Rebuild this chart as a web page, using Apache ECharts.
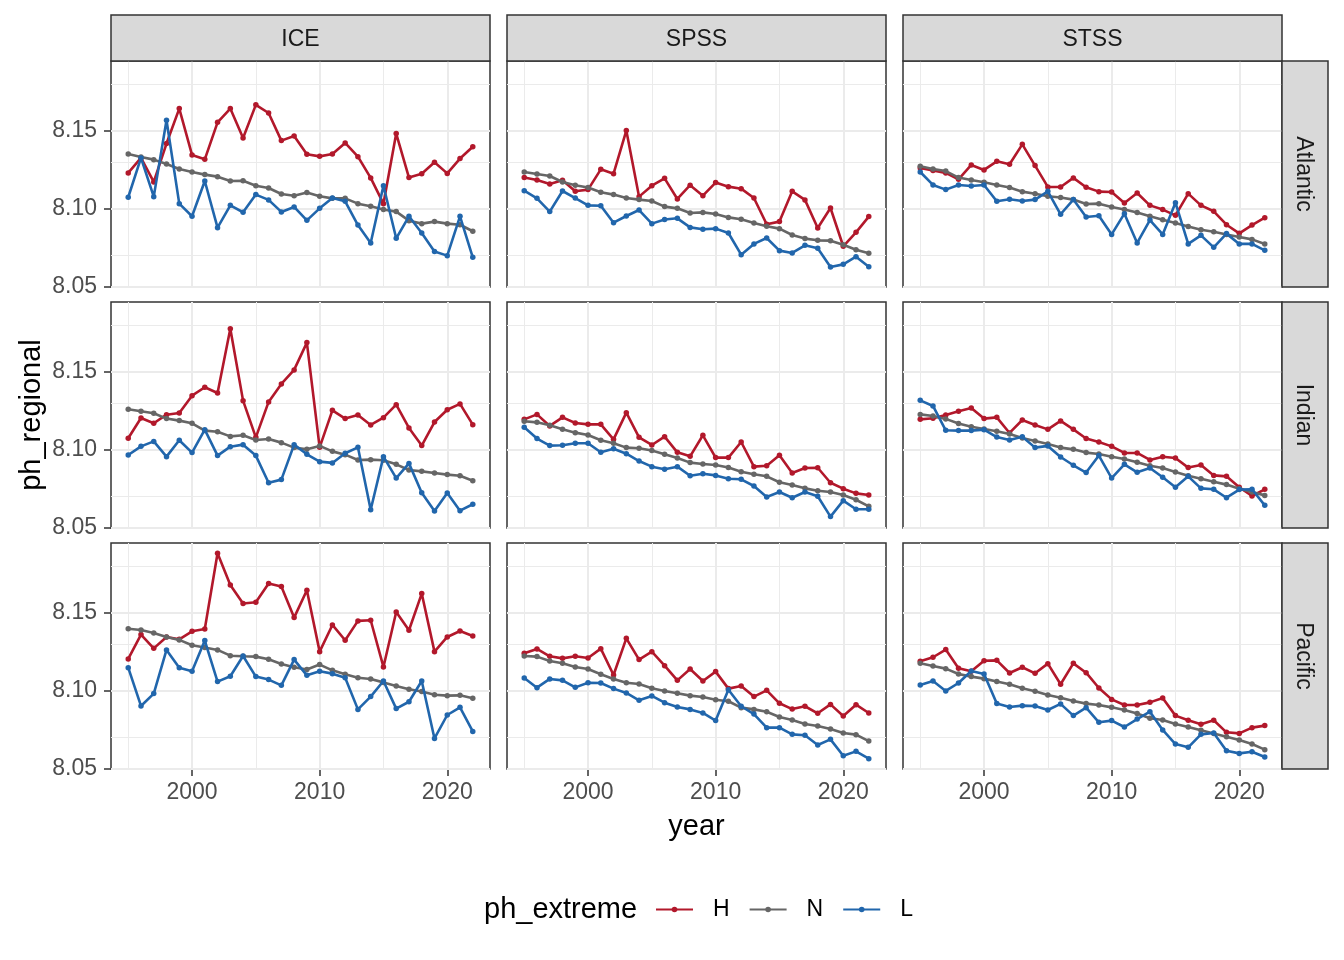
<!DOCTYPE html>
<html><head><meta charset="utf-8">
<script src="https://cdn.jsdelivr.net/npm/echarts@6/dist/echarts.min.js"></script>
<style>html,body{margin:0;padding:0;background:#fff}#c{width:1344px;height:960px}</style>
</head><body><div id="c"></div>
<script>
// ---------- data ----------
const years = [1995,1996,1997,1998,1999,2000,2001,2002,2003,2004,2005,2006,2007,2008,2009,2010,2011,2012,2013,2014,2015,2016,2017,2018,2019,2020,2021,2022];
const zones = ['ICE','SPSS','STSS'];
const regions = ['Atlantic','Indian','Pacific'];
const extremes = ['H','N','L'];
const xMajor = [2000, 2010, 2020];
const xMinor = [1995, 2005, 2015];
const xTickLabels = ['2000','2010','2020'];
const yMajor = [8.05, 8.10, 8.15];
const yMinor = [8.075, 8.125, 8.175];
const yTickLabels = ['8.05','8.10','8.15'];

const ice_atl_H = [8.1229,8.1325,8.1171,8.1417,8.1641,8.1344,8.1316,8.1553,8.1641,8.1453,8.1665,8.1613,8.1436,8.1466,8.1348,8.1335,8.1350,8.1421,8.1333,8.1197,8.1032,8.1481,8.1199,8.1224,8.1297,8.1226,8.1321,8.1397];
const ice_atl_N = [8.1350,8.1331,8.1314,8.1286,8.1254,8.1235,8.1218,8.1205,8.1177,8.1179,8.1147,8.1132,8.1094,8.1083,8.1103,8.1079,8.1066,8.1066,8.1032,8.1015,8.0994,8.0981,8.0923,8.0904,8.0917,8.0904,8.0897,8.0855];
const ice_atl_L = [8.1073,8.1325,8.1077,8.1566,8.1032,8.0951,8.1177,8.0878,8.1021,8.0977,8.1090,8.1056,8.0979,8.1011,8.0925,8.1002,8.1068,8.1047,8.0895,8.0780,8.1147,8.0810,8.0951,8.0844,8.0726,8.0699,8.0951,8.0688];

const spss_atl_H = [8.1199,8.1184,8.1158,8.1182,8.1111,8.1122,8.1252,8.1224,8.1500,8.1077,8.1147,8.1194,8.1062,8.1150,8.1083,8.1167,8.1141,8.1128,8.1068,8.0900,8.0917,8.1111,8.1056,8.0876,8.1004,8.0759,8.0848,8.0949];
const spss_atl_N = [8.1235,8.1222,8.1209,8.1171,8.1150,8.1135,8.1105,8.1090,8.1068,8.1058,8.1049,8.1013,8.1002,8.0972,8.0976,8.0966,8.0944,8.0932,8.0908,8.0887,8.0872,8.0831,8.0808,8.0797,8.0795,8.0769,8.0737,8.0714];
const spss_atl_L = [8.1115,8.1066,8.0981,8.1113,8.1068,8.1021,8.1019,8.0910,8.0953,8.0991,8.0904,8.0930,8.0938,8.0880,8.0868,8.0872,8.0844,8.0705,8.0774,8.0812,8.0731,8.0716,8.0765,8.0746,8.0626,8.0643,8.0692,8.0628];

const stss_atl_H = [8.1261,8.1244,8.1229,8.1188,8.1280,8.1248,8.1303,8.1284,8.1412,8.1276,8.1139,8.1139,8.1197,8.1137,8.1109,8.1107,8.1036,8.1100,8.1021,8.0994,8.0957,8.1096,8.1021,8.0983,8.0897,8.0842,8.0895,8.0942];
const stss_atl_N = [8.1271,8.1254,8.1241,8.1199,8.1184,8.1169,8.1152,8.1135,8.1109,8.1096,8.1079,8.1071,8.1058,8.1030,8.1032,8.1011,8.0994,8.0976,8.0951,8.0929,8.0908,8.0885,8.0865,8.0852,8.0835,8.0818,8.0803,8.0774];
const stss_atl_L = [8.1235,8.1152,8.1122,8.1152,8.1145,8.1152,8.1047,8.1060,8.1049,8.1058,8.1111,8.0964,8.1058,8.0947,8.0955,8.0835,8.0968,8.0780,8.0927,8.0835,8.1038,8.0774,8.0829,8.0752,8.0840,8.0774,8.0774,8.0733];

const ice_ind_H = [8.1073,8.1203,8.1169,8.1224,8.1235,8.1346,8.1400,8.1363,8.1774,8.1314,8.1079,8.1306,8.1421,8.1511,8.1686,8.1015,8.1252,8.1199,8.1222,8.1158,8.1205,8.1288,8.1139,8.1026,8.1177,8.1256,8.1293,8.1160];
const ice_ind_N = [8.1259,8.1246,8.1233,8.1199,8.1186,8.1169,8.1122,8.1115,8.1085,8.1092,8.1062,8.1068,8.1045,8.1013,8.1002,8.1024,8.0989,8.0968,8.0934,8.0936,8.0932,8.0906,8.0870,8.0861,8.0850,8.0840,8.0833,8.0801];
const ice_ind_L = [8.0966,8.1021,8.1053,8.0955,8.1060,8.0981,8.1128,8.0962,8.1019,8.1032,8.0962,8.0788,8.0808,8.1032,8.0970,8.0923,8.0915,8.0977,8.1015,8.0615,8.0955,8.0818,8.0912,8.0724,8.0607,8.0722,8.0609,8.0650];

const spss_ind_H = [8.1194,8.1226,8.1152,8.1207,8.1171,8.1162,8.1162,8.1066,8.1237,8.1079,8.1030,8.1083,8.0983,8.0957,8.1092,8.0949,8.0949,8.1049,8.0891,8.0897,8.0964,8.0850,8.0882,8.0884,8.0788,8.0750,8.0720,8.0709];
const spss_ind_N = [8.1182,8.1175,8.1156,8.1130,8.1109,8.1094,8.1060,8.1041,8.1013,8.1009,8.0994,8.0970,8.0947,8.0917,8.0908,8.0902,8.0885,8.0859,8.0842,8.0829,8.0791,8.0774,8.0752,8.0737,8.0729,8.0709,8.0679,8.0637];
const spss_ind_L = [8.1143,8.1071,8.1026,8.1028,8.1041,8.1041,8.0983,8.1006,8.0974,8.0927,8.0891,8.0874,8.0891,8.0833,8.0846,8.0835,8.0814,8.0810,8.0767,8.0697,8.0729,8.0692,8.0729,8.0701,8.0571,8.0673,8.0618,8.0618];

const stss_ind_H = [8.1194,8.1201,8.1222,8.1246,8.1267,8.1199,8.1207,8.1107,8.1190,8.1158,8.1130,8.1184,8.1130,8.1071,8.1049,8.1021,8.0979,8.0979,8.0934,8.0955,8.0947,8.0885,8.0902,8.0835,8.0829,8.0759,8.0703,8.0746];
const stss_ind_N = [8.1226,8.1216,8.1197,8.1167,8.1147,8.1132,8.1118,8.1100,8.1075,8.1056,8.1036,8.1013,8.1002,8.0981,8.0972,8.0955,8.0940,8.0919,8.0897,8.0882,8.0857,8.0833,8.0814,8.0795,8.0776,8.0750,8.0729,8.0707];
const stss_ind_L = [8.1316,8.1280,8.1124,8.1122,8.1122,8.1128,8.1081,8.1062,8.1083,8.1013,8.1024,8.0953,8.0900,8.0853,8.0962,8.0818,8.0906,8.0855,8.0882,8.0823,8.0759,8.0829,8.0752,8.0746,8.0692,8.0744,8.0746,8.0643];

const ice_pac_H = [8.1203,8.1359,8.1271,8.1344,8.1329,8.1380,8.1395,8.1880,8.1677,8.1558,8.1566,8.1686,8.1667,8.1468,8.1643,8.1250,8.1421,8.1323,8.1447,8.1451,8.1152,8.1504,8.1387,8.1622,8.1250,8.1344,8.1382,8.1350];
const ice_pac_N = [8.1397,8.1389,8.1370,8.1344,8.1325,8.1291,8.1276,8.1261,8.1224,8.1220,8.1218,8.1201,8.1171,8.1150,8.1135,8.1167,8.1130,8.1105,8.1083,8.1075,8.1053,8.1030,8.1009,8.0994,8.0974,8.0968,8.0970,8.0951];
const ice_pac_L = [8.1147,8.0902,8.0981,8.1261,8.1147,8.1124,8.1321,8.1058,8.1092,8.1222,8.1090,8.1071,8.1034,8.1199,8.1098,8.1124,8.1109,8.1083,8.0880,8.0962,8.1062,8.0885,8.0929,8.1062,8.0694,8.0844,8.0893,8.0739];

const spss_pac_H = [8.1239,8.1267,8.1220,8.1207,8.1220,8.1209,8.1269,8.1100,8.1335,8.1199,8.1250,8.1160,8.1066,8.1139,8.1062,8.1122,8.1013,8.1030,8.0962,8.1002,8.0919,8.0882,8.0900,8.0855,8.0912,8.0838,8.0910,8.0857];
const spss_pac_N = [8.1222,8.1218,8.1190,8.1175,8.1152,8.1139,8.1105,8.1075,8.1051,8.1043,8.1015,8.0998,8.0983,8.0968,8.0959,8.0942,8.0932,8.0891,8.0880,8.0865,8.0831,8.0812,8.0786,8.0774,8.0754,8.0729,8.0718,8.0677];
const spss_pac_L = [8.1081,8.1019,8.1075,8.1066,8.1021,8.1051,8.1049,8.1013,8.0985,8.0938,8.0966,8.0923,8.0895,8.0880,8.0857,8.0808,8.1006,8.0900,8.0850,8.0763,8.0763,8.0720,8.0714,8.0652,8.0688,8.0583,8.0611,8.0564];

const stss_pac_H = [8.1188,8.1214,8.1263,8.1143,8.1124,8.1192,8.1194,8.1113,8.1150,8.1111,8.1173,8.1041,8.1175,8.1115,8.1017,8.0944,8.0908,8.0908,8.0925,8.0953,8.0840,8.0810,8.0784,8.0810,8.0733,8.0726,8.0763,8.0776];
const stss_pac_N = [8.1175,8.1158,8.1141,8.1107,8.1090,8.1077,8.1058,8.1041,8.1015,8.0996,8.0972,8.0955,8.0934,8.0917,8.0908,8.0893,8.0876,8.0853,8.0823,8.0812,8.0786,8.0767,8.0746,8.0726,8.0705,8.0684,8.0658,8.0622];
const stss_pac_L = [8.1036,8.1062,8.0998,8.1049,8.1126,8.1107,8.0917,8.0895,8.0904,8.0902,8.0876,8.0915,8.0840,8.0891,8.0797,8.0808,8.0767,8.0818,8.0865,8.0748,8.0658,8.0637,8.0720,8.0729,8.0615,8.0598,8.0609,8.0575];

const panelData = {
  ICE:  { Atlantic: {H: ice_atl_H, N: ice_atl_N, L: ice_atl_L},
          Indian:   {H: ice_ind_H, N: ice_ind_N, L: ice_ind_L},
          Pacific:  {H: ice_pac_H, N: ice_pac_N, L: ice_pac_L} },
  SPSS: { Atlantic: {H: spss_atl_H, N: spss_atl_N, L: spss_atl_L},
          Indian:   {H: spss_ind_H, N: spss_ind_N, L: spss_ind_L},
          Pacific:  {H: spss_pac_H, N: spss_pac_N, L: spss_pac_L} },
  STSS: { Atlantic: {H: stss_atl_H, N: stss_atl_N, L: stss_atl_L},
          Indian:   {H: stss_ind_H, N: stss_ind_N, L: stss_ind_L},
          Pacific:  {H: stss_pac_H, N: stss_pac_N, L: stss_pac_L} }
};

// ---------- styling / layout ----------
const COLORS = {H: '#B2182B', N: '#666666', L: '#2166AC'};
const FONT = '"Liberation Sans", Arial, Helvetica, sans-serif';
const X_MIN = 1993.65, X_MAX = 2023.35, Y_MIN = 8.0498, Y_MAX = 8.1946;
const L0 = 111, T0 = 61, PW = 379, PH = 226, DX = 396, DY = 241;
const GRID_COL = '#EBEBEB', DARK = '#333333';

const chart = echarts.init(document.getElementById('c'), null, {renderer: 'canvas'});
const grids = [], xAxes = [], yAxes = [], series = [], graphics = [];

function pick(ticks, labels, v) {
  const k = ticks.findIndex(t => Math.abs(t - v) < 1e-6);
  return k >= 0 ? labels[k] : '';
}

regions.forEach((reg, row) => {
  zones.forEach((zone, col) => {
    const i = row * 3 + col;
    grids.push({left: L0 + col * DX, top: T0 + row * DY, width: PW, height: PH,
      show: true, borderColor: DARK, borderWidth: 1.5, backgroundColor: '#ffffff'});
    xAxes.push({type: 'value', gridIndex: i, min: X_MIN, max: X_MAX,
      splitLine: {show: false}, axisLine: {show: false},
      axisTick: {show: row === 2, length: 7, customValues: xMajor, lineStyle: {color: DARK, width: 1.5}},
      axisLabel: {show: row === 2, customValues: xMajor, margin: 12, color: '#4D4D4D', fontSize: 23, fontFamily: FONT,
        formatter: v => pick(xMajor, xTickLabels, v)}});
    yAxes.push({type: 'value', gridIndex: i, min: Y_MIN, max: Y_MAX,
      splitLine: {show: false}, axisLine: {show: false},
      axisTick: {show: col === 0, length: 7, customValues: yMajor, lineStyle: {color: DARK, width: 1.5}},
      axisLabel: {show: col === 0, customValues: yMajor, margin: 14, padding: [4, 0, 0, 0], color: '#4D4D4D', fontSize: 23, fontFamily: FONT,
        formatter: v => pick(yMajor, yTickLabels, v)}});
    const gl = [];
    yMinor.forEach(v => gl.push({yAxis: v, lineStyle: {color: GRID_COL, width: 1, type: 'solid'}}));
    xMinor.forEach(v => gl.push({xAxis: v, lineStyle: {color: GRID_COL, width: 1, type: 'solid'}}));
    yMajor.forEach(v => gl.push({yAxis: v, lineStyle: {color: GRID_COL, width: 2, type: 'solid'}}));
    xMajor.forEach(v => gl.push({xAxis: v, lineStyle: {color: GRID_COL, width: 2, type: 'solid'}}));
    extremes.forEach((ex, k) => {
      const vals = panelData[zone][reg][ex];
      const s = {type: 'line', name: ex, xAxisIndex: i, yAxisIndex: i,
        data: years.map((y, j) => [y, vals[j]]),
        symbol: 'circle', symbolSize: 5.5, showSymbol: true, showAllSymbol: true,
        lineStyle: {width: 2.6, color: COLORS[ex]}, itemStyle: {color: COLORS[ex]},
        z: 3 + k, silent: true, animation: false, emphasis: {disabled: true}};
      if (k === 0) {
        s.markLine = {silent: true, z: 1, symbol: ['none', 'none'], animation: false,
          label: {show: false}, emphasis: {disabled: true}, data: gl};
      }
      series.push(s);
    });
    // column strip
    if (row === 0) {
      graphics.push({type: 'rect', shape: {x: L0 + col * DX, y: 15, width: PW, height: 46},
        style: {fill: '#D9D9D9', stroke: DARK, lineWidth: 1.5}, z: 10});
      graphics.push({type: 'text', x: L0 + col * DX + PW / 2, y: 40,
        style: {text: zone, fontSize: 23, fontFamily: FONT, fill: '#1A1A1A', align: 'center', verticalAlign: 'middle'}, z: 11});
    }
  });
  // row strip
  graphics.push({type: 'rect', shape: {x: L0 + 2 * DX + PW, y: T0 + row * DY, width: 46, height: PH},
    style: {fill: '#D9D9D9', stroke: DARK, lineWidth: 1.5}, z: 10});
  graphics.push({type: 'text', x: L0 + 2 * DX + PW + 21, y: T0 + row * DY + PH / 2, rotation: -Math.PI / 2,
    style: {text: reg, fontSize: 23, fontFamily: FONT, fill: '#1A1A1A', align: 'center', verticalAlign: 'middle'}, z: 11});
});

graphics.push({type: 'text', x: 32, y: T0 + DY + PH / 2, rotation: Math.PI / 2,
  style: {text: 'ph_regional', fontSize: 29, fontFamily: FONT, fill: '#000', align: 'center', verticalAlign: 'middle'}});
graphics.push({type: 'text', x: L0 + DX + PW / 2, y: 827,
  style: {text: 'year', fontSize: 29, fontFamily: FONT, fill: '#000', align: 'center', verticalAlign: 'middle'}});
graphics.push({type: 'text', x: 484, y: 910,
  style: {text: 'ph_extreme', fontSize: 29, fontFamily: FONT, fill: '#000', align: 'left', verticalAlign: 'middle'}});

chart.setOption({
  animation: false,
  backgroundColor: '#ffffff',
  grid: grids, xAxis: xAxes, yAxis: yAxes, series: series,
  legend: {data: extremes, left: 655, top: 898, padding: 0, itemWidth: 37, itemHeight: 7, itemGap: 19,
    selectedMode: false, textStyle: {fontSize: 23, fontFamily: FONT, color: '#000', padding: [0, 0, 0, 15]}},
  graphic: graphics
});
</script></body></html>
